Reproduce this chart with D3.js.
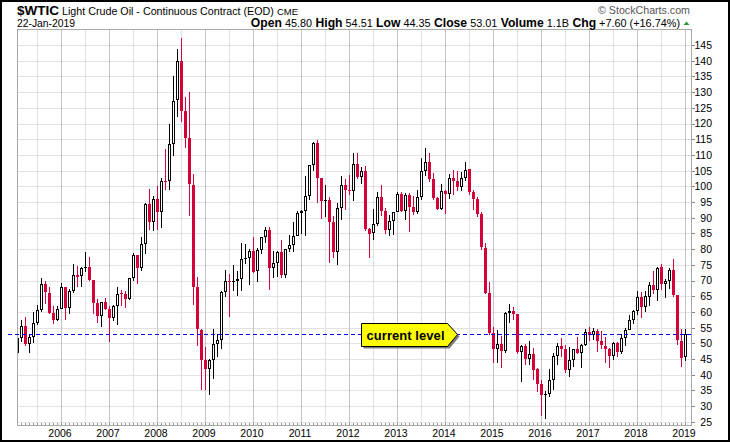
<!DOCTYPE html>
<html>
<head>
<meta charset="utf-8">
<script src="https://cdn.jsdelivr.net/npm/d3@7"></script>
<style>
  body { margin: 0; background: #fff; }
  svg { display: block; font-family: 'Liberation Sans', Arial, sans-serif; }
</style>
</head>
<body>
<div id="chart"></div>
<script>
// monthly candles, first one is Feb 2005, last one is Jan 2019
const firstMonth = 'Feb 2005'
const opens = [
  47.0, 51.8, 55.4, 49.7, 52.0, 56.5, 60.6, 68.9, 66.2, 59.8, 57.3,
  61.0, 67.9, 61.4, 66.6, 71.9, 71.3, 73.9, 74.4, 70.3, 62.9, 58.7, 63.1,
  61.05, 58.1, 61.8, 65.9, 65.7, 64.0, 70.7, 78.2, 74.0, 81.7, 94.5, 88.7,
  96.0, 91.8, 101.8, 101.6, 113.5, 127.4, 140.0, 124.1, 115.5, 100.6, 67.8, 54.4,
  44.6, 41.7, 44.8, 49.7, 51.1, 66.3, 69.9, 69.5, 70.0, 70.6, 77.0, 77.3,
  79.4, 72.9, 79.7, 83.8, 86.2, 74.0, 75.6, 79.0, 71.9, 80.0, 81.4, 84.1,
  91.4, 92.2, 97.0, 106.7, 113.9, 102.7, 95.4, 95.7, 88.8, 79.2, 93.2, 100.4,
  98.8, 98.5, 107.1, 103.0, 104.9, 86.5, 85.0, 88.1, 96.5, 92.2, 86.2, 88.9,
  91.8, 97.5, 92.1, 97.2, 93.5, 92.0, 96.6, 105.0, 107.7, 102.3, 96.4, 92.7,
  98.4, 97.5, 102.6, 101.6, 99.7, 102.7, 105.4, 98.2, 96.0, 91.2, 80.5, 66.2,
  53.3, 48.2, 49.8, 47.6, 59.6, 60.3, 59.5, 47.1, 49.2, 45.1, 46.6, 41.7,
  37.0, 33.6, 33.8, 38.3, 45.9, 49.1, 48.3, 41.6, 44.7, 48.2, 46.9, 49.4,
  53.7, 52.8, 54.0, 50.6, 49.3, 48.3, 46.0, 50.2, 47.2, 51.7, 54.4, 57.4,
  60.4, 64.7, 61.6, 64.9, 68.6, 67.0, 74.2, 68.8, 69.8, 73.3, 65.3, 50.9,
  45.80
]
const highs = [
  51.9, 57.6, 58.3, 53.0, 60.0, 62.3, 70.9, 70.0, 67.9, 62.0, 61.9,
  69.2, 68.0, 67.4, 75.4, 74.6, 74.2, 79.0, 77.5, 70.3, 64.2, 62.8, 64.4,
  62.0, 62.3, 68.1, 66.9, 66.8, 70.7, 78.8, 78.3, 83.9, 94.7, 99.3, 96.8,
  100.1, 102.6, 111.8, 119.9, 135.1, 143.7, 147.3, 128.6, 130.0, 104.0, 71.2, 54.7,
  49.0, 45.0, 54.7, 53.1, 66.6, 73.4, 72.1, 75.0, 72.9, 82.0, 81.5, 80.0,
  84.0, 80.5, 83.9, 87.2, 87.2, 79.4, 79.4, 83.0, 80.0, 84.4, 88.6, 92.1,
  92.6, 103.4, 106.95, 114.0, 114.8, 102.8, 100.6, 96.6, 90.5, 94.7, 103.4, 102.4,
  103.7, 110.55, 110.55, 106.1, 106.4, 86.8, 92.9, 98.3, 100.4, 93.0, 90.8, 91.7,
  98.2, 98.2, 97.8, 97.8, 96.9, 99.0, 108.9, 112.2, 110.7, 104.4, 96.5, 100.8,
  98.9, 104.0, 105.2, 104.9, 104.5, 107.7, 105.6, 98.7, 96.5, 92.0, 82.1, 69.7,
  55.2, 54.2, 52.5, 59.9, 62.6, 61.6, 59.5, 49.4, 49.9, 50.9, 48.4, 42.0,
  38.4, 34.8, 41.9, 46.8, 50.2, 51.7, 49.6, 48.75, 48.3, 51.9, 49.9, 54.5,
  55.2, 54.9, 54.6, 53.8, 52.0, 48.4, 50.4, 50.4, 52.9, 54.9, 59.05, 60.5,
  66.66, 66.3, 66.55, 69.56, 72.9, 74.46, 75.27, 70.4, 74.0, 76.9, 65.3, 54.55,
  54.51
]
const lows = [
  47.0, 50.4, 49.2, 47.0, 50.1, 55.7, 60.0, 62.6, 59.5, 56.2, 57.0,
  60.8, 57.6, 59.5, 65.9, 68.0, 68.0, 72.6, 69.8, 59.5, 56.6, 55.3, 60.7,
  50.3, 57.2, 56.0, 61.9, 61.4, 63.9, 69.9, 69.0, 73.0, 78.4, 86.0, 85.9,
  86.1, 86.6, 98.7, 98.7, 109.6, 122.0, 120.4, 112.2, 90.5, 62.3, 49.3, 35.0,
  35.0, 33.6, 38.7, 45.7, 48.3, 64.9, 58.3, 66.8, 65.1, 66.8, 75.2, 68.6,
  72.4, 69.5, 78.5, 82.1, 67.0, 70.8, 71.1, 70.8, 70.8, 79.2, 79.2, 84.1,
  84.9, 84.1, 95.8, 105.0, 94.6, 89.6, 90.3, 75.7, 77.1, 74.95, 89.2, 92.5,
  97.1, 95.4, 102.2, 100.7, 85.9, 77.3, 83.0, 87.4, 90.6, 84.9, 84.1, 84.6,
  91.7, 92.0, 89.3, 85.6, 91.0, 91.1, 95.8, 103.2, 101.5, 95.8, 92.5, 92.4,
  91.2, 96.0, 97.4, 98.6, 98.4, 101.8, 97.2, 92.5, 90.4, 79.8, 65.7, 52.7,
  43.6, 43.6, 42.0, 47.0, 56.5, 57.5, 46.7, 37.75, 43.2, 43.2, 38.4, 34.5,
  27.0, 26.05, 33.0, 35.2, 43.0, 45.8, 40.6, 39.2, 42.5, 46.6, 42.2, 49.3,
  50.7, 51.2, 47.1, 48.2, 43.8, 42.05, 44.7, 45.6, 46.5, 49.1, 54.2, 56.1,
  59.1, 58.07, 59.95, 62.0, 65.8, 63.6, 67.0, 64.4, 67.2, 64.9, 49.4, 42.36,
  44.35
]
const closes = [
  51.75, 55.40, 49.72, 51.97, 56.50, 60.57, 68.94, 66.24, 59.76, 57.32, 61.04,
  67.92, 61.41, 66.63, 71.88, 71.29, 73.93, 74.40, 70.26, 62.91, 58.73, 63.13, 61.05,
  58.14, 61.79, 65.87, 65.71, 64.01, 70.68, 78.21, 74.04, 81.66, 94.53, 88.71, 95.98,
  91.75, 101.84, 101.58, 113.46, 127.35, 140.00, 124.08, 115.46, 100.64, 67.81, 54.43, 44.60,
  41.68, 44.76, 49.66, 51.12, 66.31, 69.89, 69.45, 69.96, 70.61, 77.00, 77.28, 79.36,
  72.89, 79.66, 83.76, 86.15, 73.97, 75.63, 78.95, 71.92, 79.97, 81.43, 84.11, 91.38,
  92.19, 96.97, 106.72, 113.93, 102.70, 95.42, 95.70, 88.81, 79.20, 93.19, 100.36, 98.83,
  98.48, 107.07, 103.02, 104.87, 86.53, 84.96, 88.06, 96.47, 92.19, 86.24, 88.91, 91.82,
  97.49, 92.05, 97.23, 93.46, 91.97, 96.56, 105.03, 107.65, 102.33, 96.38, 92.72, 98.42,
  97.49, 102.59, 101.58, 99.74, 102.71, 105.37, 98.17, 95.96, 91.16, 80.54, 66.15, 53.27,
  48.24, 49.76, 47.60, 59.63, 60.30, 59.47, 47.12, 49.20, 45.09, 46.59, 41.65, 37.04,
  33.62, 33.75, 38.34, 45.92, 49.10, 48.33, 41.60, 44.70, 48.24, 46.86, 49.44, 53.72,
  52.81, 54.01, 50.60, 49.33, 48.32, 46.04, 50.17, 47.23, 51.67, 54.38, 57.40, 60.42,
  64.73, 61.64, 64.94, 68.57, 67.04, 74.15, 68.76, 69.80, 73.25, 65.31, 50.93, 45.41,
  53.01
]
const yearLabels = ['2006', '2007', '2008', '2009', '2010', '2011', '2012',
  '2013', '2014', '2015', '2016', '2017', '2018', '2019']
const priceTicks = [25, 30, 35, 40, 45, 50, 55, 60, 65, 70, 75, 80, 85, 90, 95,
  100, 105, 110, 115, 120, 125, 130, 135, 140, 145]
const currentLevel = 53.01
const headerStats = [
  ['Open', '45.80'], ['High', '54.51'], ['Low', '44.35'], ['Close', '53.01'],
  ['Volume', '1.1B'], ['Chg', '+7.60 (+16.74%)']
]

const width = 730
const height = 442
const plot = { left: 17, top: 29, right: 691, bottom: 425 }
const red = '#d4003a'

const svg = d3.select('#chart')
  .append('svg')
  .attr('width', width)
  .attr('height', height)

// bar index -> x (Feb 2005 is bar 0, Jan 2006 is bar 11)
const x = d3.scaleLinear().domain([0, 167]).range([17.5, 685.5])
const y = d3.scaleLinear().domain([24, 150]).range([425, 29.4])
const janIndex = yearLabels.map((d, i) => 11 + 12 * i)
const julIndex = d3.range(5, 168, 12)

// grid
const grid = svg.append('g').attr('shape-rendering', 'crispEdges')
grid.selectAll('line.h')
  .data(priceTicks)
  .enter()
  .append('line')
  .attr('x1', plot.left).attr('x2', plot.right)
  .attr('y1', d => Math.round(y(d)) + 0.5).attr('y2', d => Math.round(y(d)) + 0.5)
  .attr('stroke', '#e2e2e2')
grid.selectAll('line.jul')
  .data(julIndex)
  .enter()
  .append('line')
  .attr('x1', d => x(d)).attr('x2', d => x(d))
  .attr('y1', plot.top).attr('y2', plot.bottom)
  .attr('stroke', '#e2e2e2')
grid.selectAll('line.jan')
  .data(janIndex)
  .enter()
  .append('line')
  .attr('x1', d => x(d)).attr('x2', d => x(d))
  .attr('y1', plot.top).attr('y2', plot.bottom)
  .attr('stroke', '#c4c4c4')

// month ticks along the bottom
grid.selectAll('line.m')
  .data(d3.range(opens.length))
  .enter()
  .append('line')
  .attr('x1', d => x(d)).attr('x2', d => x(d))
  .attr('y1', plot.bottom - 2).attr('y2', plot.bottom)
  .attr('stroke', '#999')

// plot frame
svg.append('rect')
  .attr('x', plot.left + 0.5).attr('y', plot.top + 0.5)
  .attr('width', plot.right - plot.left).attr('height', plot.bottom - plot.top)
  .attr('fill', 'none')
  .attr('stroke', '#a8a8a8')
  .attr('shape-rendering', 'crispEdges')

svg.append('clipPath').attr('id', 'clip')
  .append('rect')
  .attr('x', plot.left + 1).attr('y', plot.top + 1)
  .attr('width', plot.right - plot.left - 1).attr('height', plot.bottom - plot.top - 1)

// candles
const bars = d3.range(opens.length).map(i => ({
  i,
  o: opens[i],
  h: highs[i],
  l: lows[i],
  c: closes[i],
  prev: i ? closes[i - 1] : opens[i]
}))
bars.forEach(d => {
  d.color = d.c >= d.prev ? '#000' : red
  d.hollow = d.c >= d.o
  d.top = Math.round(y(Math.max(d.o, d.c)))
  d.bot = Math.max(d.top + 1, Math.round(y(Math.min(d.o, d.c))))
})

const candles = svg.append('g')
  .attr('clip-path', 'url(#clip)')
  .attr('shape-rendering', 'crispEdges')
  .selectAll('g')
  .data(bars)
  .enter()
  .append('g')
candles.append('line')
  .attr('x1', d => x(d.i)).attr('x2', d => x(d.i))
  .attr('y1', d => Math.round(y(d.h))).attr('y2', d => Math.round(y(d.l)))
  .attr('stroke', d => d.color)
candles.append('rect')
  .attr('x', d => x(d.i) - 1.5)
  .attr('width', 3)
  .attr('y', d => d.top)
  .attr('height', d => d.bot - d.top)
  .attr('fill', d => d.color)
candles.filter(d => d.hollow && d.bot - d.top > 2)
  .append('rect')
  .attr('x', d => x(d.i) - 0.5)
  .attr('width', 1)
  .attr('y', d => d.top + 1)
  .attr('height', d => d.bot - d.top - 2)
  .attr('fill', '#fff')

// current level line + flag
const levelY = Math.round(y(currentLevel)) + 0.5
svg.append('line')
  .attr('x1', 8).attr('x2', plot.right)
  .attr('y1', levelY).attr('y2', levelY)
  .attr('stroke', '#0000ff')
  .attr('stroke-dasharray', '4,3')
  .attr('shape-rendering', 'crispEdges')

const tipX = x(110)
const flagPts = [[-96, -11], [-10, -11], [0, 0], [-10, 12], [-96, 12]]
const flag = svg.append('g').attr('transform', `translate(${tipX},${levelY})`)
flag.append('polygon')
  .attr('points', flagPts.map(p => [p[0] + 2, p[1] + 2].join(',')).join(' '))
  .attr('fill', '#7a7a7a')
flag.append('polygon')
  .attr('points', flagPts.map(p => p.join(',')).join(' '))
  .attr('fill', '#ffff00')
  .attr('stroke', '#000')
  .attr('stroke-width', 1)
flag.append('text')
  .attr('x', -52).attr('y', 5)
  .attr('text-anchor', 'middle')
  .attr('font-size', 13)
  .attr('font-weight', 'bold')
  .attr('textLength', 78)
  .text('current level')

// right price axis
const yAxis = svg.append('g')
  .attr('transform', `translate(${plot.right + 0.5},0)`)
  .call(d3.axisRight(y).tickValues(priceTicks).tickSize(3).tickPadding(3))
yAxis.select('.domain').remove()
yAxis.selectAll('.tick line').attr('stroke', '#888').attr('shape-rendering', 'crispEdges')
yAxis.selectAll('.tick text')
  .attr('text-anchor', 'end')
  .attr('x', 20.5)
  .attr('font-size', 10.5)
  .attr('font-family', "'Liberation Sans', Arial, sans-serif")
  .attr('fill', '#000')

// year labels
const xAxis = svg.append('g')
  .attr('transform', `translate(0,${plot.bottom})`)
  .call(d3.axisBottom(x).tickValues(janIndex)
    .tickFormat((d, i) => yearLabels[i]).tickSize(0).tickPadding(4.5))
xAxis.select('.domain').remove()
xAxis.selectAll('.tick text')
  .attr('x', -2)
  .attr('font-size', 10.5)
  .attr('font-family', "'Liberation Sans', Arial, sans-serif")
  .attr('fill', '#000')

// header
function fitWidth (text, w) {
  const size = parseFloat(text.attr('font-size'))
  const len = text.node().getComputedTextLength()
  text.attr('font-size', (size * w / len).toFixed(2))
}

const sym = svg.append('text')
  .attr('x', 17).attr('y', 14.5)
  .attr('font-size', 13).attr('font-weight', 'bold')
  .text('$WTIC')
fitWidth(sym, 42)
const title = svg.append('text')
  .attr('x', 62).attr('y', 14.5)
  .attr('font-size', 11)
  .text('Light Crude Oil - Continuous Contract (EOD)')
fitWidth(title, 212)
const exch = svg.append('text')
  .attr('x', 277).attr('y', 14.5)
  .attr('font-size', 9.5)
  .text('CME')
fitWidth(exch, 21)
const date = svg.append('text')
  .attr('x', 17).attr('y', 26.8)
  .attr('font-size', 10.5)
  .text('22-Jan-2019')
fitWidth(date, 58)

const stats = svg.append('text')
  .attr('x', 680).attr('y', 26.8)
  .attr('text-anchor', 'end')
  .attr('font-size', 10)
headerStats.forEach(([label, value], i) => {
  stats.append('tspan')
    .attr('font-weight', 'bold')
    .attr('font-size', '1.12em')
    .text((i ? ' ' : '') + label)
  stats.append('tspan').text(' ' + value)
})
fitWidth(stats, 429)

svg.append('path')
  .attr('d', 'M683.5,25 L686.5,21.5 L689.5,25 Z')
  .attr('fill', '#2f9a2f')

const credit = svg.append('text')
  .attr('x', 690).attr('y', 14)
  .attr('text-anchor', 'end')
  .attr('font-size', 10)
  .attr('fill', '#555')
  .text('\u00a9 StockCharts.com')
fitWidth(credit, 92)

// outer frame
svg.append('rect')
  .attr('x', 1).attr('y', 1)
  .attr('width', width - 2).attr('height', height - 2)
  .attr('fill', 'none')
  .attr('stroke', '#000')
  .attr('stroke-width', 2)
</script>
</body>
</html>
